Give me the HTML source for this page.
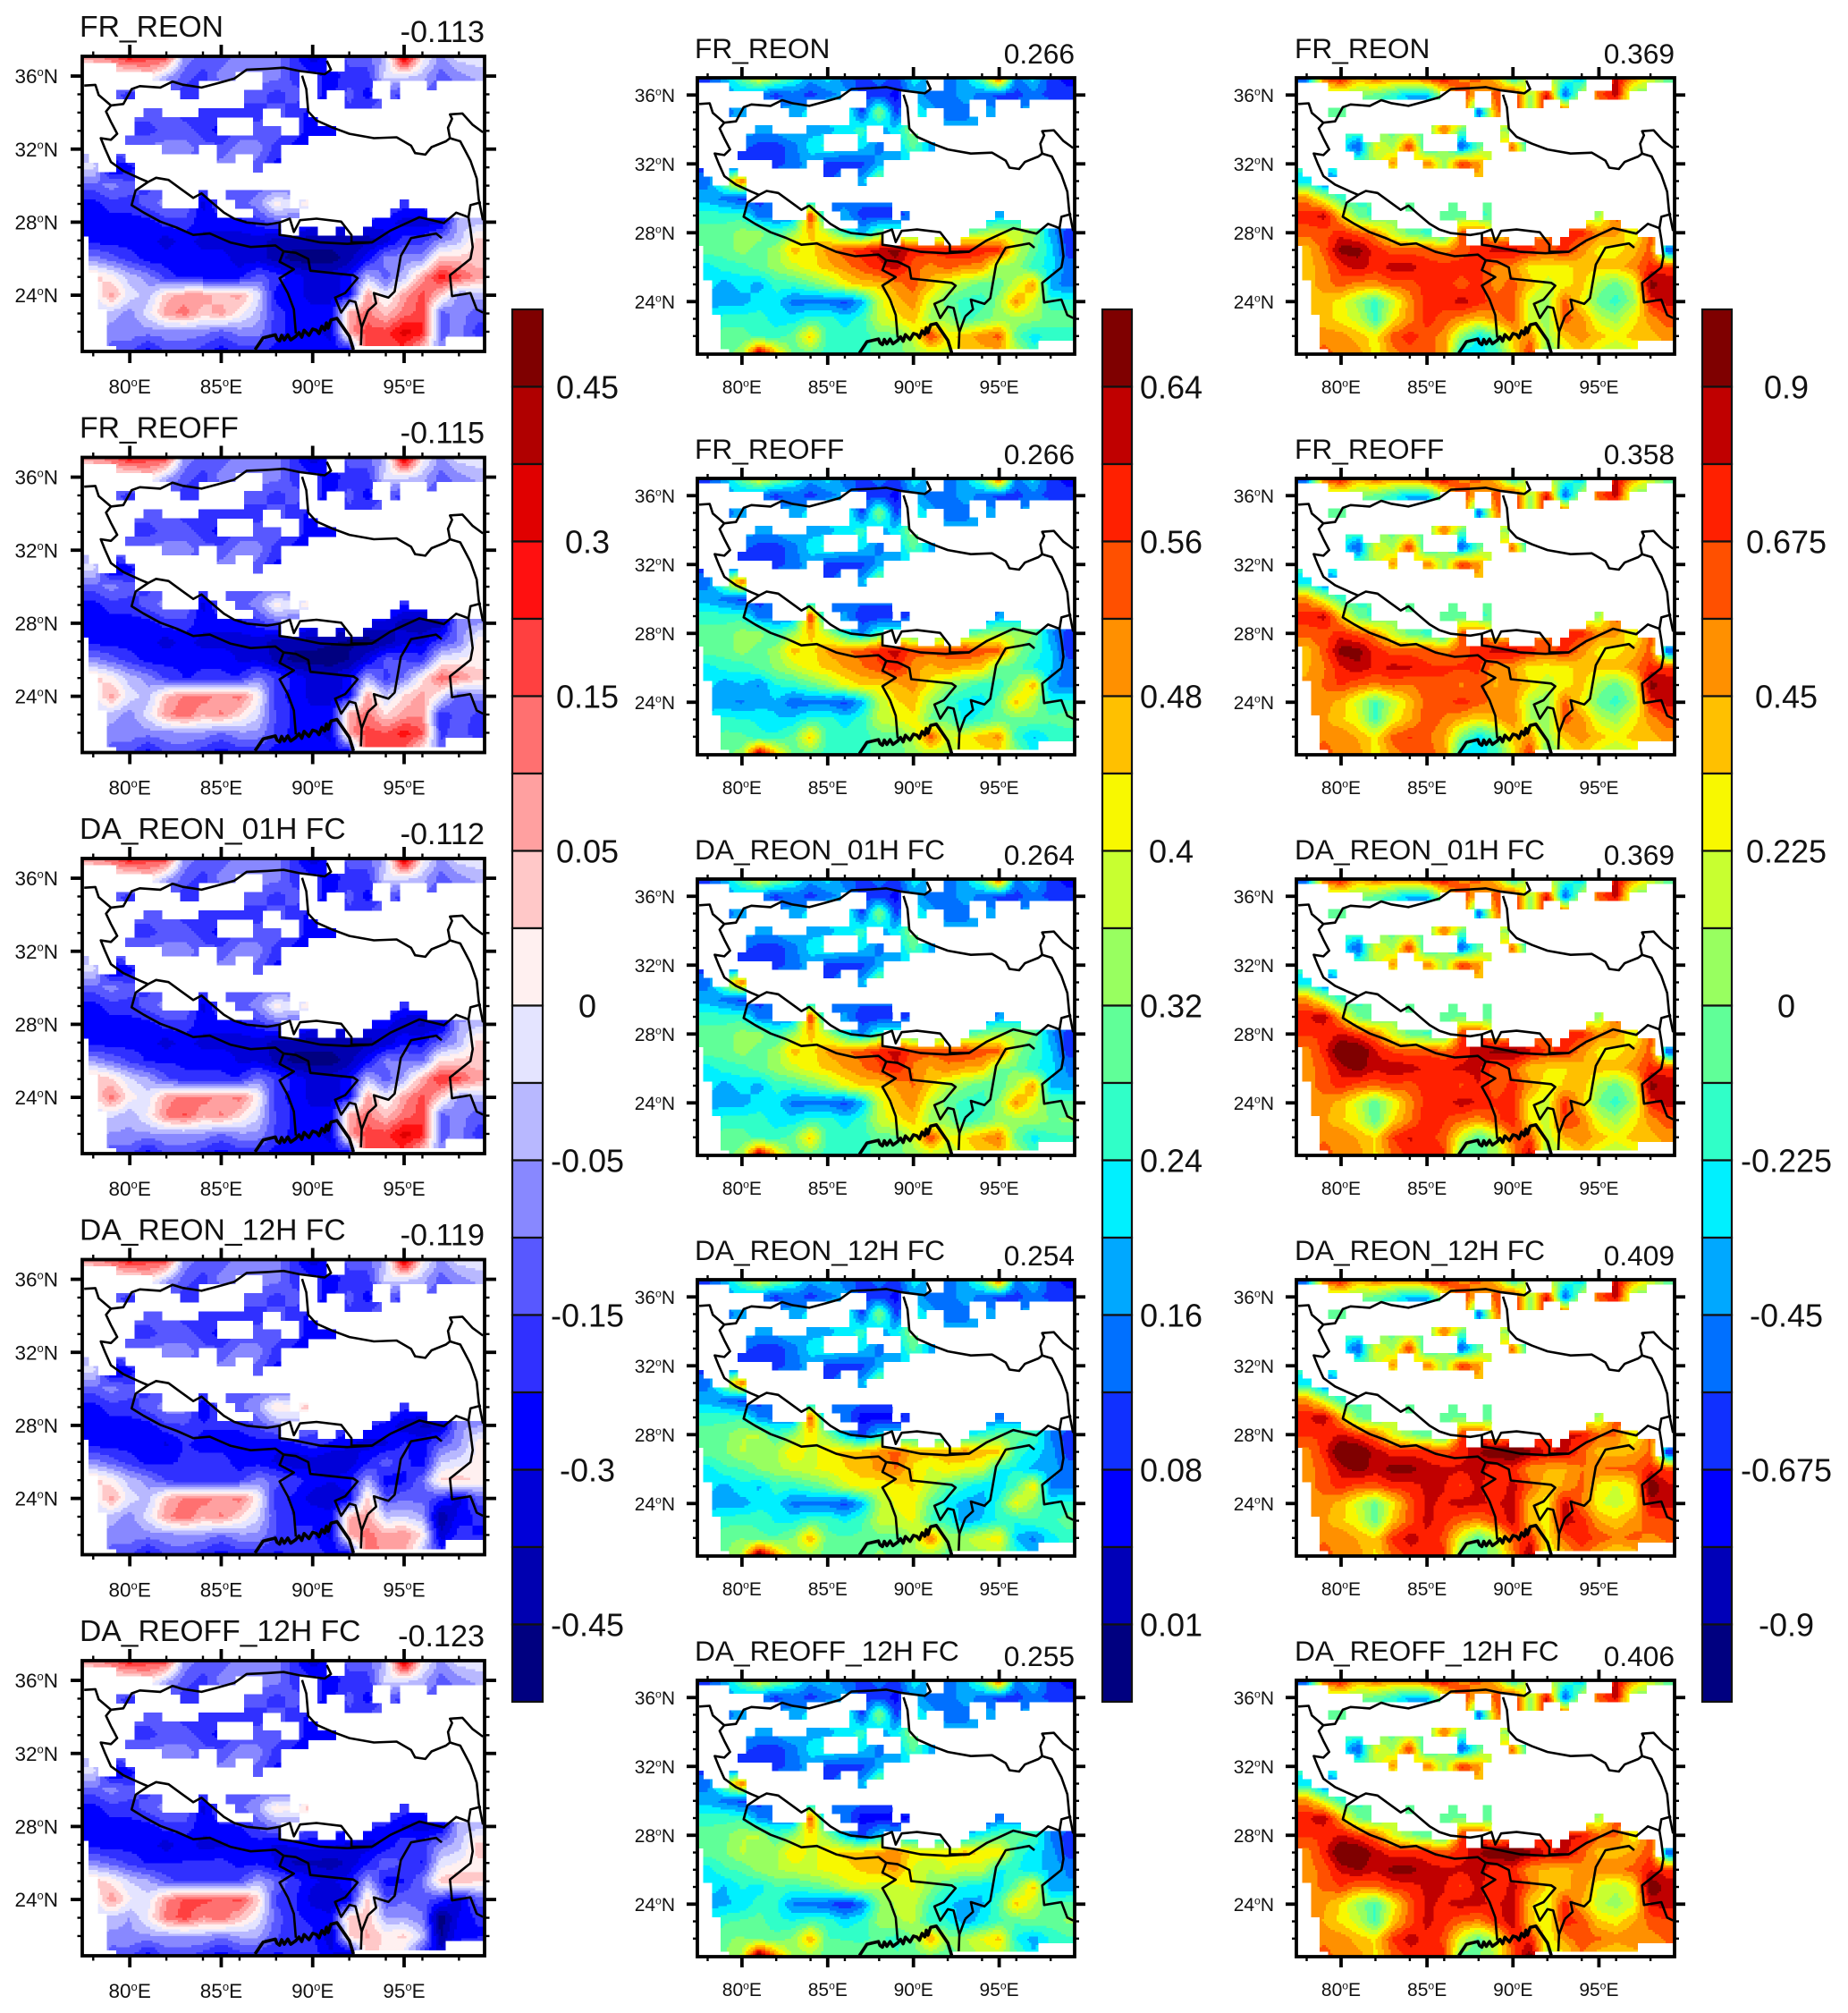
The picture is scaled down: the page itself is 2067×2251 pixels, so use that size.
<!DOCTYPE html>
<html>
<head>
<meta charset="utf-8">
<title>Correlation maps</title>
<style>
html,body{margin:0;padding:0;background:#fff;}
svg{display:block;font-family:"Liberation Sans",sans-serif;}
</style>
</head>
<body>
<svg id="figure" xmlns="http://www.w3.org/2000/svg" width="2067" height="2251" viewBox="0 0 2067 2251">
<rect x="0" y="0" width="2067" height="2251" fill="#ffffff"/>
</svg>
<script>
// ---------- labels ----------
const panelTitles = ["FR_REON","FR_REOFF","DA_REON_01H FC","DA_REON_12H FC","DA_REOFF_12H FC"];
const valuesLeft = ["-0.113","-0.115","-0.112","-0.119","-0.123"];
const valuesMid = ["0.266","0.266","0.264","0.254","0.255"];
const valuesRight = ["0.369","0.358","0.369","0.409","0.406"];
const lonTicks = [80,85,90,95];
const lonMinorTicks = [78,82,84,86,88,92,94,96,98];
const latTicks = [24,28,32,36];
const latMinorTicks = [22,23,25,26,27,29,30,31,33,34,35];
const barLabelsLeft = ["0.45","0.3","0.15","0.05","0","-0.05","-0.15","-0.3","-0.45"];
const barLabelsMid = ["0.64","0.56","0.48","0.4","0.32","0.24","0.16","0.08","0.01"];
const barLabelsRight = ["0.9","0.675","0.45","0.225","0","-0.225","-0.45","-0.675","-0.9"];

// ---------- colour bands, lowest to highest ----------
const bandColorsBlueRed = ["#000080","#0000b0","#0000d8","#0000ff","#3030ff","#5858ff","#8888ff","#b8b8ff","#e4e4ff","#fff0f0","#ffc8c8","#ffa0a0","#ff7070","#ff4040","#ff1010","#e00000","#b00000","#7f0000"];
const bandColorsJet = ["#000080","#0000b8","#0000ff","#1030ff","#0070ff","#00a8ff","#00f0ff","#30ffc8","#60ff98","#98ff60","#c8ff30","#f8f800","#ffc000","#ff9000","#ff5000","#ff2000","#c00000","#7f0000"];

// ---------- fields: colour band read at each 1 degree node (lon 78..99, lat 37..21) ----------
const bandsLeft = [
[11,12,14,13,13,6,5,5,6,6,6,4,2,3,5,5,7,16,9,6,8,8],
[8,9,8,10,7,5,4,6,6,6,6,4,4,3,4,4,8,8,7,5,6,7],
[5,5,4,4,4,4,4,5,5,5,4,5,4,3,5,3,5,4,5,5,5,5],
[5,5,5,5,5,4,4,4,4,4,5,4,3,3,4,5,5,5,5,5,5,5],
[5,5,4,4,5,5,4,3,5,5,5,4,3,3,4,5,5,5,5,5,5,5],
[6,6,6,6,6,6,5,5,6,6,4,3,3,4,5,5,5,5,5,5,5,5],
[8,2,3,5,5,5,5,6,6,5,3,4,5,5,5,5,5,5,5,5,5,5],
[5,6,5,4,5,5,5,5,5,5,5,5,5,5,5,5,5,5,5,5,5,5],
[3,4,4,5,6,6,2,5,5,6,9,8,10,8,7,6,5,4,4,5,5,5],
[3,3,3,3,4,4,3,3,3,4,5,5,3,3,3,3,3,2,2,2,7,7],
[3,3,3,3,2,3,2,2,2,2,1,1,1,1,1,1,2,4,4,6,7,10],
[6,5,4,3,3,3,3,3,2,2,1,0,0,0,1,3,6,6,6,10,10,10],
[10,9,7,6,4,3,3,3,3,5,4,3,2,2,3,7,5,7,11,14,13,11],
[8,11,8,7,10,11,11,10,11,8,3,3,2,2,3,11,8,11,13,10,6,7],
[7,7,6,8,11,12,10,11,9,7,4,3,3,3,11,12,10,12,13,5,6,5],
[7,6,6,6,6,6,6,5,6,6,4,3,3,2,11,13,13,15,14,5,6,4],
[6,5,5,3,5,5,4,3,4,4,3,3,3,3,3,13,13,13,10,6,6,6]
];
const bandsMid = [
[3,5,8,11,9,7,5,6,4,3,4,3,6,5,4,5,8,15,4,6,3,2],
[5,5,5,4,3,4,3,4,5,3,3,2,5,4,4,5,4,3,3,4,3,3],
[4,4,5,5,5,5,6,7,8,3,9,3,7,5,4,4,5,5,5,5,5,5],
[5,5,5,5,5,6,5,5,6,7,5,6,9,5,5,5,5,5,5,5,5,5],
[4,4,4,3,3,4,6,7,6,6,4,5,8,5,4,5,5,5,5,5,5,5],
[3,2,2,3,3,4,5,3,3,3,5,5,6,6,5,5,5,5,5,5,5,5],
[4,9,14,5,5,5,5,3,5,5,9,6,5,5,5,5,5,5,5,5,5,5],
[5,4,3,3,4,4,4,4,4,4,4,4,4,4,4,4,4,4,4,4,4,4],
[7,7,7,4,4,4,15,4,5,3,3,3,4,4,4,4,4,5,5,5,5,5],
[8,8,9,9,7,9,12,10,7,5,8,8,8,8,9,8,9,10,10,9,5,3],
[8,8,9,8,9,12,11,13,14,15,16,17,15,15,15,16,15,15,10,8,6,3],
[6,7,7,8,9,10,11,12,13,14,15,16,14,13,14,13,13,9,9,7,6,4],
[6,5,6,5,7,7,8,9,11,12,12,13,14,12,10,9,8,8,10,13,5,4],
[5,5,5,6,6,4,4,4,3,5,10,12,13,10,8,7,7,9,13,10,7,7],
[6,7,7,7,6,6,7,7,6,7,10,11,12,9,9,7,8,9,9,9,8,8],
[7,8,8,7,7,8,12,7,7,7,8,8,10,15,11,12,13,14,8,6,7,7],
[7,8,9,17,12,8,8,7,7,7,8,8,9,10,10,12,12,12,10,7,7,7]
];
const bandsRight = [
[3,14,16,12,14,13,13,15,16,13,14,12,6,11,10,8,5,13,16,13,10,8],
[9,9,9,9,8,7,5,5,10,15,12,14,16,9,16,3,10,14,16,8,9,9],
[8,8,8,7,7,7,7,7,8,16,3,13,16,9,16,16,12,12,12,12,12,12],
[8,8,8,8,8,8,8,8,14,8,8,10,8,5,9,9,9,9,9,9,9,9],
[7,7,7,3,11,9,15,5,9,3,8,10,14,5,9,9,9,9,9,9,9,9],
[7,7,8,8,9,13,9,14,9,15,13,9,10,9,9,9,9,9,9,9,9,9],
[6,3,5,7,7,7,7,7,9,10,12,10,9,9,9,9,9,9,9,9,9,9],
[13,10,7,7,8,8,8,8,8,8,8,8,8,8,8,8,8,8,8,8,8,8],
[15,16,12,8,7,9,8,9,8,8,7,8,8,9,9,9,9,9,14,12,10,10],
[14,14,15,14,13,10,8,7,6,14,15,10,12,13,13,15,15,13,13,10,14,13],
[12,14,17,17,15,14,14,14,13,14,15,16,16,15,14,15,13,11,11,12,14,3],
[12,13,15,16,15,16,16,15,15,15,15,13,13,11,11,11,12,12,12,13,15,15],
[12,13,14,13,13,14,14,15,15,14,15,13,14,12,10,11,12,9,8,10,17,16],
[12,12,11,9,7,10,13,15,15,16,15,14,14,10,9,14,11,8,7,9,15,16],
[12,12,11,10,7,11,13,15,14,13,12,13,14,10,9,14,13,10,9,11,13,14],
[13,13,13,12,11,14,15,14,13,9,6,8,12,13,9,12,13,12,11,12,12,13],
[13,14,13,13,11,13,14,14,13,6,6,7,11,15,8,10,12,10,9,10,12,12]
];

// ---------- per-panel band offsets (lon 78,81,...,99 at lat 27,24,21) ----------
const offsetsLeft = [
[[0,0,0,0,0,0,0,0],[0,0,0,0,0,0,0,0],[0,0,0,0,0,0,0,0]],
[[0,0,0,0,0,-1,-2,-1],[0,0,1,1,0,0,-2,-1],[0,0,0,0,0,0,-1,0]],
[[0,0,0,0,0,0,-1,0],[1,1,1,1,0,0,0,0],[0,0,0,0,0,0,0,0]],
[[0,0,1,1,3,1,-1,-1],[0,0,1,1,0,-1,-8,-2],[0,0,0,0,1,-1,-3,0]],
[[0,0,0,1,2,1,0,0],[0,1,2,2,0,-1,-8,-2],[0,0,0,0,1,-3,-6,0]]
];
const offsetsMid = [
[[0,0,0,0,0,0,0,0],[0,0,0,0,0,0,0,0],[0,0,0,0,0,0,0,0]],
[[0,0,0,-1,-1,-1,-1,0],[0,-1,0,0,-1,-1,-1,0],[0,0,0,0,0,-1,-1,0]],
[[0,0,0,-1,-1,-1,-1,0],[0,0,0,0,0,0,0,1],[0,0,0,0,0,-1,0,0]],
[[0,1,-1,-3,-3,-3,-3,0],[0,0,0,0,-2,-2,-2,0],[0,1,1,1,0,-3,-3,0]],
[[0,1,-1,-3,-4,-4,-3,0],[0,1,0,-1,-3,-2,-1,1],[0,1,1,1,-1,-3,-2,0]]
];
const offsetsRight = [
[[0,0,0,0,0,0,0,0],[0,0,0,0,0,0,0,0],[0,0,0,0,0,0,0,0]],
[[0,0,0,0,0,0,0,0],[1,1,-1,-1,-1,0,0,0],[0,0,0,0,0,0,0,0]],
[[1,1,0,1,1,0,0,0],[1,1,0,0,1,1,0,0],[0,0,1,2,2,0,0,0]],
[[1,1,1,1,2,1,1,-1],[1,1,1,0,2,2,3,0],[0,0,1,2,2,2,2,1]],
[[1,1,1,1,2,1,1,0],[1,0,1,0,2,1,2,0],[0,0,1,2,3,1,2,1]]
];

// ---------- valid-data ranges: per 0.5 degree row (lat 37 down to 21), [first,last+1] column index ----------
const validRunsA = [
[[0,27],[29,45]],[[4,27],[29,45]],[[8,17],[20,24],[26,45]],
[[10,13],[20,24],[26,32],[34,35],[38,39]],
[[4,6],[11,13],[18,24],[26,27],[29,32],[34,35]],
[[18,24],[29,33]],[[7,9],[13,20],[22,25]],[[6,15],[19,20],[24,26]],
[[6,15],[19,22],[24,28]],[[5,25]],[[9,13],[15,22]],
[[0,1],[4,5],[15,17],[19,22]],[[0,2],[4,6],[19,20]],[[0,6]],[[0,6]],
[[0,9],[13,14],[16,23]],[[0,9],[13,15],[17,23],[24,25],[35,36]],
[[0,15],[19,24],[34,38]],[[0,22],[32,45]],
[[0,22],[24,26],[28,29],[31,45]],
[[1,45]],[[1,45]],[[1,45]],[[1,45]],
[[2,45]],[[2,45]],[[2,45]],[[2,45]],
[[3,45]],[[3,45]],[[3,45]],[[3,40]],[[4,30]]
];
const validRunsB = [
[[0,27],[30,34],[37,45]],[[4,27],[30,34],[37,41]],
[[8,17],[20,21],[23,24],[26,33],[35,39]],
[[20,21],[23,24],[26,29],[31,32]],
[[4,6],[21,24]],[],
[[16,20],[24,25]],
[[6,8],[10,15],[19,20],[24,25]],
[[6,15],[19,22],[25,27]],
[[7,12],[14,23]],
[[11,12],[15,22]],
[[0,1],[4,5],[21,22]],
[[0,2]],[[0,4]],[[0,6]],
[[0,9],[13,14],[18,19],[22,23]],
[[0,9],[17,20],[22,23],[35,36]],
[[0,12],[19,23],[34,38]],
[[0,16],[19,20],[32,40]],
[[0,20],[22,25],[28,30],[31,42]],
[[1,42],[43,45]],
[[1,45]],[[1,45]],[[1,45]],
[[2,45]],[[2,45]],[[2,45]],[[2,45]],
[[3,45]],[[3,45]],[[3,45]],[[3,40]],[[4,28]]
];

// ---------- geographic outlines, lon/lat ----------
const outlineWestSouth = [[77.51,35.48],[78.12,35.52],[78.3,34.96],[78.97,34.39],[78.7,34.06],[78.97,33.49],[79.31,32.84],[78.97,32.51],[78.41,32.6],[78.64,32.03],[78.97,31.29],[79.65,30.8],[80.55,30.39],[81,30.2],[81.44,30.43],[82.12,30.31],[82.79,29.82],[83.47,29.33],[83.92,29.58],[84.48,29.09],[85.15,28.52],[85.71,28.19],[86.39,27.98],[87.51,27.87],[88.19,27.98],[88.75,28.19],[88.97,27.46],[89.31,28.11],[90.21,28.19],[91.56,28.03],[92.12,27.3],[92.12,26.89],[93.24,26.89],[94.25,27.54],[95.83,28.27],[97.17,27.95],[97.85,28.52],[98.52,28.27],[98.63,28.93],[99.2,29.09]];
const outlineNorth = [[78.97,34.39],[79.65,34.47],[80.1,35.29],[80.55,35.45],[81.67,35.37],[82.34,35.7],[82.9,35.53],[83.92,35.37],[84.82,35.61],[85.71,35.86],[86.39,36.35],[87.51,36.4],[88.41,36.46],[89.31,36.27],[90.66,36.1],[91,36.35],[90.77,36.84]];
const outlineEastBranch = [[89.42,36.02],[89.65,35.29],[89.76,34.06],[90.21,33.57],[91.11,33.17],[92.01,32.84],[93.35,32.6],[94.59,32.65],[95.38,32.19],[95.6,31.78],[96.16,31.7],[96.5,32.11],[97.29,32.43],[97.51,32.6],[97.4,33.17],[97.62,33.66],[97.51,33.9],[98.19,33.95],[98.75,33.33],[99.31,32.92]];
const outlineEastEdge = [[97.51,32.6],[98.07,32.43],[98.63,31.37],[98.97,30.39],[99.08,29.25],[99.31,28.11]];
const outlineHimalaya = [[81,30.2],[80.32,29.74],[80.1,28.93],[80.77,28.52],[81.67,28.03],[82.57,27.7],[83.47,27.3],[84.37,27.38],[85.49,26.89],[86.61,26.64],[87.96,26.73],[88.41,26.4],[88.19,25.83],[88.97,25.42],[88.19,24.93],[88.64,24.12],[88.97,23.22],[89.08,21.91]];
const outlineBhutan = [[88.19,27.98],[88.19,27.3],[88.86,27.21],[90.43,26.89],[91.89,26.81],[93.24,26.89]];
const outlineBangladesh = [[88.41,26.4],[89.08,26.32],[89.76,25.99],[89.87,25.34],[92.23,25.09],[92.46,24.93],[91.78,24.12],[91.22,23.87],[91.56,23.05],[92.01,23.71],[92.34,23.63],[92.68,22.24],[92.64,21.26]];
const outlineMyanmarWest = [[93.02,23.14],[93.47,23.55],[93.35,24.12],[94.14,23.87],[94.48,24.2],[94.82,26.15],[95.38,27.13],[96.75,27.38],[97.06,27.13]];
const outlineMyanmarLink = [[92.68,22.24],[93.02,23.14]];
const outlineYunnan = [[98.52,28.27],[98.63,27.62],[98.75,26.64],[98.63,25.99],[97.51,25.09],[97.62,23.95],[98.63,24.12],[98.97,23.22],[99.31,23.05]];
const outlineCoast = [[86.85,21.02],[87.29,21.67],[87.96,21.83],[88.05,21.6],[88.19,21.5],[88.3,21.8],[88.45,21.55],[88.64,21.83],[88.8,21.55],[89.08,21.75],[89.25,21.95],[89.4,21.7],[89.53,22.08],[89.8,21.8],[90.0,22.15],[90.21,22.08],[90.35,21.9],[90.5,22.3],[90.66,22.1],[90.75,22.48],[90.85,22.2],[91.0,22.65],[91.33,22.73],[92.01,21.75],[92.23,21.02]];
const allOutlines = [outlineWestSouth,outlineNorth,outlineEastBranch,outlineEastEdge,outlineHimalaya,outlineBhutan,outlineBangladesh,outlineMyanmarWest,outlineMyanmarLink,outlineYunnan,outlineCoast];

// ---------- drawing ----------
const NS = "http://www.w3.org/2000/svg";
const root = document.getElementById("figure");
const clamp = (v,a,b) => Math.max(a,Math.min(b,v));

function make(tag, parent, props){
  const el = document.createElementNS(NS, tag);
  for (const k in props) el.setAttribute(k, props[k]);
  parent.appendChild(el);
  return el;
}
function fieldAt(grid, lon, lat){
  const fx = clamp(lon-78,0,21), fy = clamp(37-lat,0,16);
  const x0 = Math.min(Math.floor(fx),20), y0 = Math.min(Math.floor(fy),15);
  const tx = fx-x0, ty = fy-y0;
  return (grid[y0][x0]*(1-tx)+grid[y0][x0+1]*tx)*(1-ty)+(grid[y0+1][x0]*(1-tx)+grid[y0+1][x0+1]*tx)*ty;
}
const zeroRow = [0,0,0,0,0,0,0,0];
function offsetAt(off, lon, lat){
  const fx = clamp((lon-78)/3,0,7), fy = clamp((30-lat)/3,0,3);
  const x0 = Math.min(Math.floor(fx),6), y0 = Math.min(Math.floor(fy),2);
  const tx = fx-x0, ty = fy-y0;
  const a = y0===0 ? zeroRow : off[y0-1], b = off[y0];
  return (a[x0]*(1-tx)+a[x0+1]*tx)*(1-ty)+(b[x0]*(1-tx)+b[x0+1]*tx)*ty;
}
function isValid(runs, i, j){
  const row = runs[j];
  if (!row) return false;
  for (let n=0;n<row.length;n++){ if (i>=row[n][0] && i<row[n][1]) return true; }
  return false;
}
function degreeLabel(parent, x, y, anchor, num, suffix, size, name){
  const t = make("text", parent, {x:x, y:y, "text-anchor":anchor, "font-size":size, fill:"#111"});
  
  
  t.appendChild(document.createTextNode(String(num)));
  const s1 = make("tspan", t, {dy:-size*0.36, "font-size":size*0.58});
  s1.textContent = "o";
  const s2 = make("tspan", t, {dy:size*0.36});
  s2.textContent = suffix;
}
function drawPanel(col, r, title, value, grid, offset, runs, colors){
  const left = col.left, right = col.right, top = col.top + r*col.pitch, bottom = top + col.height;
  const xScale = lon => left + (lon-77.4)*(right-left)/22;
  const yScale = lat => top + (col.latTop-lat)*(bottom-top)/(col.latTop-col.latBottom);
  const panel = make("g", root, {});
  
  
  const clipId = "clip-"+col.id+"-"+r;
  const clip = make("clipPath", panel, {id:clipId});
  make("rect", clip, {x:left, y:top, width:right-left, height:bottom-top});

  const field = make("g", panel, {"clip-path":"url(#"+clipId+")", "shape-rendering":"crispEdges"});
  
  
  const step = 0.125;
  for (let m=0;m<132;m++){
    const lat = 37.25-step*m-step/2, j = Math.floor(m/4);
    const y0 = yScale(37.25-step*m), y1 = yScale(37.25-step*(m+1));
    let runBand = -1, runStart = 0;
    for (let k=0;k<=180;k++){
      let band = -1;
      if (k<180){
        const i = Math.floor(k/4);
        if (isValid(runs,i,j)){
          const lon = 77.25+step*k+step/2;
          band = clamp(Math.round(fieldAt(grid,lon,lat)+offsetAt(offset,lon,lat)),0,17);
        }
      }
      if (band!==runBand){
        if (runBand>=0){
          const x0 = xScale(77.25+step*runStart), x1 = xScale(77.25+step*k);
          const cell = make("rect", field, {x:x0.toFixed(1), y:y0.toFixed(1), width:(x1-x0+0.5).toFixed(1), height:(y1-y0+0.5).toFixed(1), fill:colors[runBand]});
          
          
        }
        runBand = band; runStart = k;
      }
    }
  }

  const borders = make("g", panel, {"clip-path":"url(#"+clipId+")", fill:"none", stroke:"#000", "stroke-width":2.6, "stroke-linejoin":"round"});
  
  
  allOutlines.forEach(function(line){
    const p = make("polyline", borders, {points:line.map(q => xScale(q[0]).toFixed(1)+","+yScale(q[1]).toFixed(1)).join(" ")});
    
    
    if (line===outlineCoast) p.setAttribute("stroke-width", 3.6);
  });

  const ticks = make("g", panel, {stroke:"#000", fill:"none"});
  
  
  function tick(x1,y1,x2,y2,w){
    const l = make("line", ticks, {x1:x1,y1:y1,x2:x2,y2:y2,"stroke-width":w});
    
    
  }
  lonTicks.forEach(v => { const x=xScale(v); tick(x,top,x,top-col.major,3.8); tick(x,bottom,x,bottom+col.major,3.8); });
  lonMinorTicks.forEach(v => { const x=xScale(v); tick(x,top,x,top-col.minor,2.4); tick(x,bottom,x,bottom+col.minor,2.4); });
  latTicks.forEach(v => { const y=yScale(v); tick(left,y,left-col.major,y,3.8); tick(right,y,right+col.major,y,3.8); });
  latMinorTicks.forEach(v => { const y=yScale(v); tick(left,y,left-col.minor,y,2.4); tick(right,y,right+col.minor,y,2.4); });

  const frame = make("rect", panel, {x:left,y:top,width:right-left,height:bottom-top,fill:"none",stroke:"#000","stroke-width":3.8});
  
  

  lonTicks.forEach(v => degreeLabel(panel, xScale(v), bottom+col.xLabelDy, "middle", v, "E", col.tickFont, "x-tick-label"));
  latTicks.forEach(v => degreeLabel(panel, left-col.yLabelGap, yScale(v)+col.tickFont*0.36, "end", v, "N", col.tickFont, "y-tick-label"));

  const t = make("text", panel, {x:col.titleX, y:top-22, "font-size":col.titleFont, fill:"#111"});
  
  
  t.textContent = title;
  const v = make("text", panel, {x:right, y:top-16, "text-anchor":"end", "font-size":col.valueFont, fill:"#111"});
  
  
  v.textContent = value;
}
function drawColorbar(x0, x1, labelX, colors, labels){
  const top = 346, box = 86.5, n = colors.length;
  const bar = make("g", root, {});
  
  
  for (let i=0;i<n;i++){
    const c = make("rect", bar, {x:x0, y:top+i*box, width:x1-x0, height:box, fill:colors[n-1-i], stroke:"#111", "stroke-width":2.2});
    
    
  }
  labels.forEach(function(s,i){
    const t = make("text", bar, {x:labelX, y:top+box*(2*i+1)+13, "text-anchor":"middle", "font-size":36, fill:"#111"});
    
    
    t.textContent = s;
  });
}

const colLeft = {id:"left",left:92,right:542,top:63,height:330,pitch:448.5,latTop:37.08,latBottom:20.92,major:13,minor:5.5,tickFont:22.5,xLabelDy:47,yLabelGap:27,titleX:89,titleFont:33.7,valueFont:34.2};
const colMid = {id:"mid",left:780,right:1202,top:87,height:309,pitch:448,latTop:37,latBottom:20.95,major:12,minor:5,tickFont:21,xLabelDy:44,yLabelGap:25,titleX:777,titleFont:31.7,valueFont:31.7};
const colRight = {id:"right",left:1450,right:1873,top:87,height:309,pitch:448,latTop:37,latBottom:20.95,major:12,minor:5,tickFont:21,xLabelDy:44,yLabelGap:25,titleX:1448,titleFont:31.7,valueFont:31.7};

panelTitles.forEach(function(title,r){
  drawPanel(colLeft, r, title, valuesLeft[r], bandsLeft, offsetsLeft[r], validRunsA, bandColorsBlueRed);
  drawPanel(colMid, r, title, valuesMid[r], bandsMid, offsetsMid[r], validRunsA, bandColorsJet);
  drawPanel(colRight, r, title, valuesRight[r], bandsRight, offsetsRight[r], validRunsB, bandColorsJet);
});
drawColorbar(573,607,657,bandColorsBlueRed,barLabelsLeft);
drawColorbar(1233,1266,1310,bandColorsJet,barLabelsMid);
drawColorbar(1904,1937,1998,bandColorsJet,barLabelsRight);
</script>
</body>
</html>
